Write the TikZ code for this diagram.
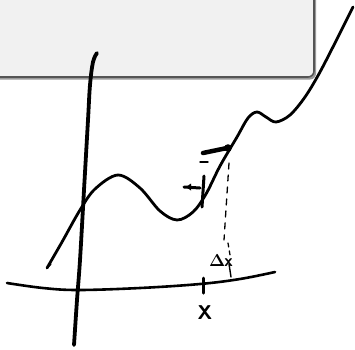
\documentclass[tikz,border=0pt]{standalone}
\usetikzlibrary{calc}
\definecolor{boxfill}{HTML}{F1F1F1}
\definecolor{boxedge}{HTML}{555555}
\definecolor{boxshadow}{HTML}{9A9A9A}
\begin{document}
\begin{tikzpicture}[x=1pt,y=-1pt,
  ink/.style={line cap=round,line join=round,black},
  curve/.style={ink,line width=2.8pt},
  axisline/.style={ink,line width=3.8pt},
  hand/.style={font=\sffamily\bfseries\fontsize{20}{20}\selectfont,inner sep=0pt}]
\useasboundingbox (0,0) rectangle (355,349);
% box with shadow
\fill[boxshadow,rounded corners=6pt] (-10,-10) rectangle (316,79.5);
\filldraw[fill=boxfill,draw=boxedge,line width=1.6pt,rounded corners=6pt] (-10,-10) rectangle (314,77);
% vertical axis
\draw[axisline] plot[smooth,tension=0.6] coordinates {(97,53) (93,62) (90,85) (88,120) (84,190) (80,260) (77,300) (74,345)};
% horizontal axis
\draw[ink,line width=2.6pt] plot[smooth,tension=0.6] coordinates {(7,283) (43,288) (78,290) (140,288) (200,284) (240,279) (275,272)};
% function curve
\draw[curve] plot[smooth,tension=0.55] coordinates {(47,268) (62,242) (80,210) (95,189) (118,175) (140,188) (160,211) (177,220) (193,212) (206,194) (220,166) (237,137) (248,118) (257,112) (266,117) (276,122) (290,115) (305,97) (320,72) (340,33) (353,7)};
\draw[ink,line width=1.4pt] (47,268) -- (51,264);
% marks near the curve
\draw[ink,line width=4.5pt] (203,153) -- (227,148);
\fill (228,148) circle (3.8);
\draw[ink,line width=1.4pt] (200,162) -- (208,162);
\draw[ink,line width=3pt] (184,187) -- (200,188);
\fill (186,187) -- (191,183.5) -- (191,190.5) -- cycle;
\draw[ink,line width=3pt] (204,176) -- (202,207);
% dashed drop line
\draw[ink,line width=1.3pt,dash pattern=on 6pt off 6pt] (229,163) -- (224,240);
\draw[ink,line width=1.3pt,dash pattern=on 4pt off 4pt] (228,243) -- (230,255);
\draw[ink,line width=1.4pt] (229,264) -- (231,277);
% tick at x
\draw[ink,line width=3pt] (203,278) -- (203,293);
% labels
\node[inner sep=0pt,font=\sffamily\bfseries\fontsize{17}{17}\selectfont] (dx) at (221,261) {$\mathbf{\Delta}$\kern-1pt x};
\node[hand] (xl) at (205,313) {X};
\end{tikzpicture}
\end{document}
